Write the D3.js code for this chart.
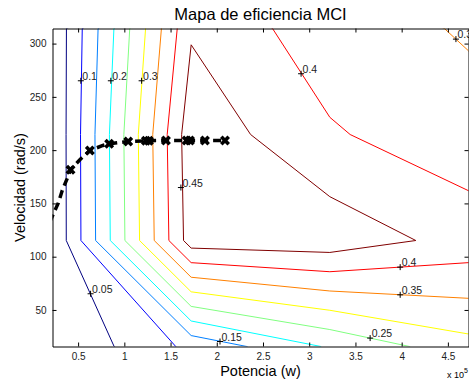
<!DOCTYPE html>
<html>
<head>
<meta charset="utf-8">
<script src="https://cdn.jsdelivr.net/npm/d3@7"></script>
<style>
  body { margin: 0; background: #fff; }
  text { font-family: "Liberation Sans", Arial, Helvetica, sans-serif; }
</style>
</head>
<body>
<div id="chart"></div>
<script>
// efficiency grid: rows follow speeds, columns follow powers
var powers = [22300, 172300, 322300, 472300];
var speeds = [15.71, 115.19, 214.68, 314.16];
var efficiency = [
  [0.000, 0.1125, 0.206, 0.2825],
  [0.003, 0.476, 0.481, 0.431],
  [0.003, 0.483, 0.406, 0.365],
  [0.006, 0.444, 0.369, 0.346]
];
var levels = [0.05, 0.1, 0.15, 0.2, 0.25, 0.3, 0.35, 0.4, 0.45];

// contour labels
var labelPower = [52950, 85400, 118700, 291200, 458700, 161200, 63500, 203500, 365900, 398400, 398400];
var labelSpeed = [265.1, 265.1, 265.1, 271.7, 304.2, 164.9, 65.2, 20.4, 23.6, 90.2, 64.2];
var labelText = ["0.1", "0.2", "0.3", "0.4", "0.35", "0.45", "0.05", "0.15", "0.25", "0.4", "0.35"];

// operating line and its points
var opPower = [19400, 28600, 32900, 37800, 41800, 52400, 62700, 76800, 83600, 104200, 124900, 146100, 169100, 188800, 208900];
var opSpeed = [132.7, 150.5, 162.3, 172.6, 181.6, 191.4, 199.7, 204.4, 206.0, 208.1, 208.8, 209.1, 209.1, 209.1, 209.1];
var markPower = [41800, 62700, 83600, 104200, 123300, 126600, 145000, 167400, 171000, 187200, 208900];
var markSpeed = [181.6, 199.7, 206.0, 208.1, 208.8, 208.8, 209.1, 209.1, 209.1, 209.1, 209.1];

var xTicks = [50000, 100000, 150000, 200000, 250000, 300000, 350000, 400000, 450000];
var yTicks = [50, 100, 150, 200, 250, 300];

function chart() {
  var w = 469;
  var h = 385;
  var left = 52.5, right = 468.5, top = 28.5, bottom = 346.5;

  var x = d3.scaleLinear().domain([powers[0], powers[3]]).range([left, right]);
  var y = d3.scaleLinear().domain([speeds[0], speeds[3]]).range([bottom, top]);

  // jet colormap over the contour levels
  var jet = d3.scaleLinear()
              .domain([0, 0.125, 0.375, 0.625, 0.875, 1])
              .range(["#000080", "#0000ff", "#00ffff", "#ffff00", "#ff0000", "#800000"]);
  var color = function(v) { return jet((v - levels[0]) / (levels[levels.length - 1] - levels[0])); };

  var svg = d3.select("#chart")
              .append("svg")
              .attr("width", w)
              .attr("height", h)
              .style("display", "block");

  svg.append("defs").append("clipPath")
     .attr("id", "plot")
     .append("rect")
     .attr("x", left).attr("y", top)
     .attr("width", right - left).attr("height", bottom - top);

  // contour lines from the grid
  var contours = d3.contours()
                   .size([powers.length, speeds.length])
                   .thresholds(levels)(efficiency.flat());
  var gx = d3.scaleLinear().domain([0.5, powers.length - 0.5]).range([powers[0], powers[powers.length - 1]]);
  var gy = d3.scaleLinear().domain([0.5, speeds.length - 0.5]).range([speeds[0], speeds[speeds.length - 1]]);
  var path = d3.geoPath(d3.geoTransform({
    point: function(px, py) { this.stream.point(x(gx(px)), y(gy(py))); }
  }));

  var plot = svg.append("g").attr("clip-path", "url(#plot)");
  plot.selectAll("path.level")
      .data(contours)
      .enter()
      .append("path")
      .attr("class", "level")
      .attr("d", path)
      .attr("fill", "none")
      .attr("stroke", function(d) { return color(d.value); })
      .attr("stroke-width", 1);

  // operating line
  var line = d3.line()
               .x(function(d, i) { return x(opPower[i]); })
               .y(function(d, i) { return y(opSpeed[i]); });
  plot.append("path")
      .attr("d", line(opPower))
      .attr("fill", "none")
      .attr("stroke", "#000")
      .attr("stroke-width", 3.5)
      .attr("stroke-dasharray", "8,5");

  plot.selectAll("path.mark")
      .data(markPower)
      .enter()
      .append("path")
      .attr("class", "mark")
      .attr("d", d3.symbol(d3.symbolX, 38))
      .attr("transform", function(d, i) { return "translate(" + x(d) + "," + y(markSpeed[i]) + ")"; })
      .attr("fill", "none")
      .attr("stroke", "#000")
      .attr("stroke-width", 3.6);

  // contour labels
  var lab = svg.append("g");
  lab.selectAll("path")
     .data(labelPower)
     .enter()
     .append("path")
     .attr("d", "M-3,0H3M0,-3V3")
     .attr("transform", function(d, i) { return "translate(" + x(d) + "," + y(labelSpeed[i]) + ")"; })
     .attr("stroke", "#000")
     .attr("stroke-width", 1);
  lab.selectAll("text")
     .data(labelPower)
     .enter()
     .append("text")
     .attr("x", function(d) { return x(d) + 1.5; })
     .attr("y", function(d, i) { return y(labelSpeed[i]) - 1; })
     .attr("font-size", 10.5)
     .attr("fill", "#222")
     .text(function(d, i) { return labelText[i]; });

  // axes, ticks pointing inside
  var font = "'Liberation Sans', Arial, Helvetica, sans-serif";
  svg.append("g")
     .attr("transform", "translate(0," + bottom + ")")
     .call(d3.axisBottom(x).tickValues(xTicks).tickFormat(function(d) { return d / 1e5; })
             .tickSizeInner(-4).tickSizeOuter(0).tickPadding(6))
     .attr("font-size", 10).attr("font-family", font);
  svg.append("g")
     .attr("transform", "translate(0," + top + ")")
     .call(d3.axisTop(x).tickValues(xTicks).tickFormat("").tickSizeInner(-4).tickSizeOuter(0));
  svg.append("g")
     .attr("transform", "translate(" + left + ",0)")
     .call(d3.axisLeft(y).tickValues(yTicks).tickSizeInner(-4).tickSizeOuter(0).tickPadding(6))
     .attr("font-size", 10).attr("font-family", font);
  svg.append("g")
     .attr("transform", "translate(" + right + ",0)")
     .call(d3.axisRight(y).tickValues(yTicks).tickFormat("").tickSizeInner(-4).tickSizeOuter(0));
  svg.selectAll(".domain, .tick line").attr("stroke", "#000");
  svg.selectAll(".tick text").attr("fill", "#222");

  // titles
  svg.append("text")
     .attr("x", (left + right) / 2).attr("y", 20)
     .attr("text-anchor", "middle").attr("font-size", 16.5)
     .text("Mapa de eficiencia MCI");
  svg.append("text")
     .attr("x", (left + right) / 2).attr("y", 375.5)
     .attr("text-anchor", "middle").attr("font-size", 14.5)
     .text("Potencia (w)");
  svg.append("text")
     .attr("transform", "translate(25," + (top + bottom) / 2 + ") rotate(-90)")
     .attr("text-anchor", "middle").attr("font-size", 14.5)
     .text("Velocidad (rad/s)");

  var exp = svg.append("text")
               .attr("x", 468).attr("y", 377.5)
               .attr("text-anchor", "end").attr("font-size", 9);
  exp.append("tspan").text("x 10");
  exp.append("tspan").attr("dy", -5).attr("font-size", 7).text("5");
}

window.onload = function() {
  chart();
};
</script>
</body>
</html>
